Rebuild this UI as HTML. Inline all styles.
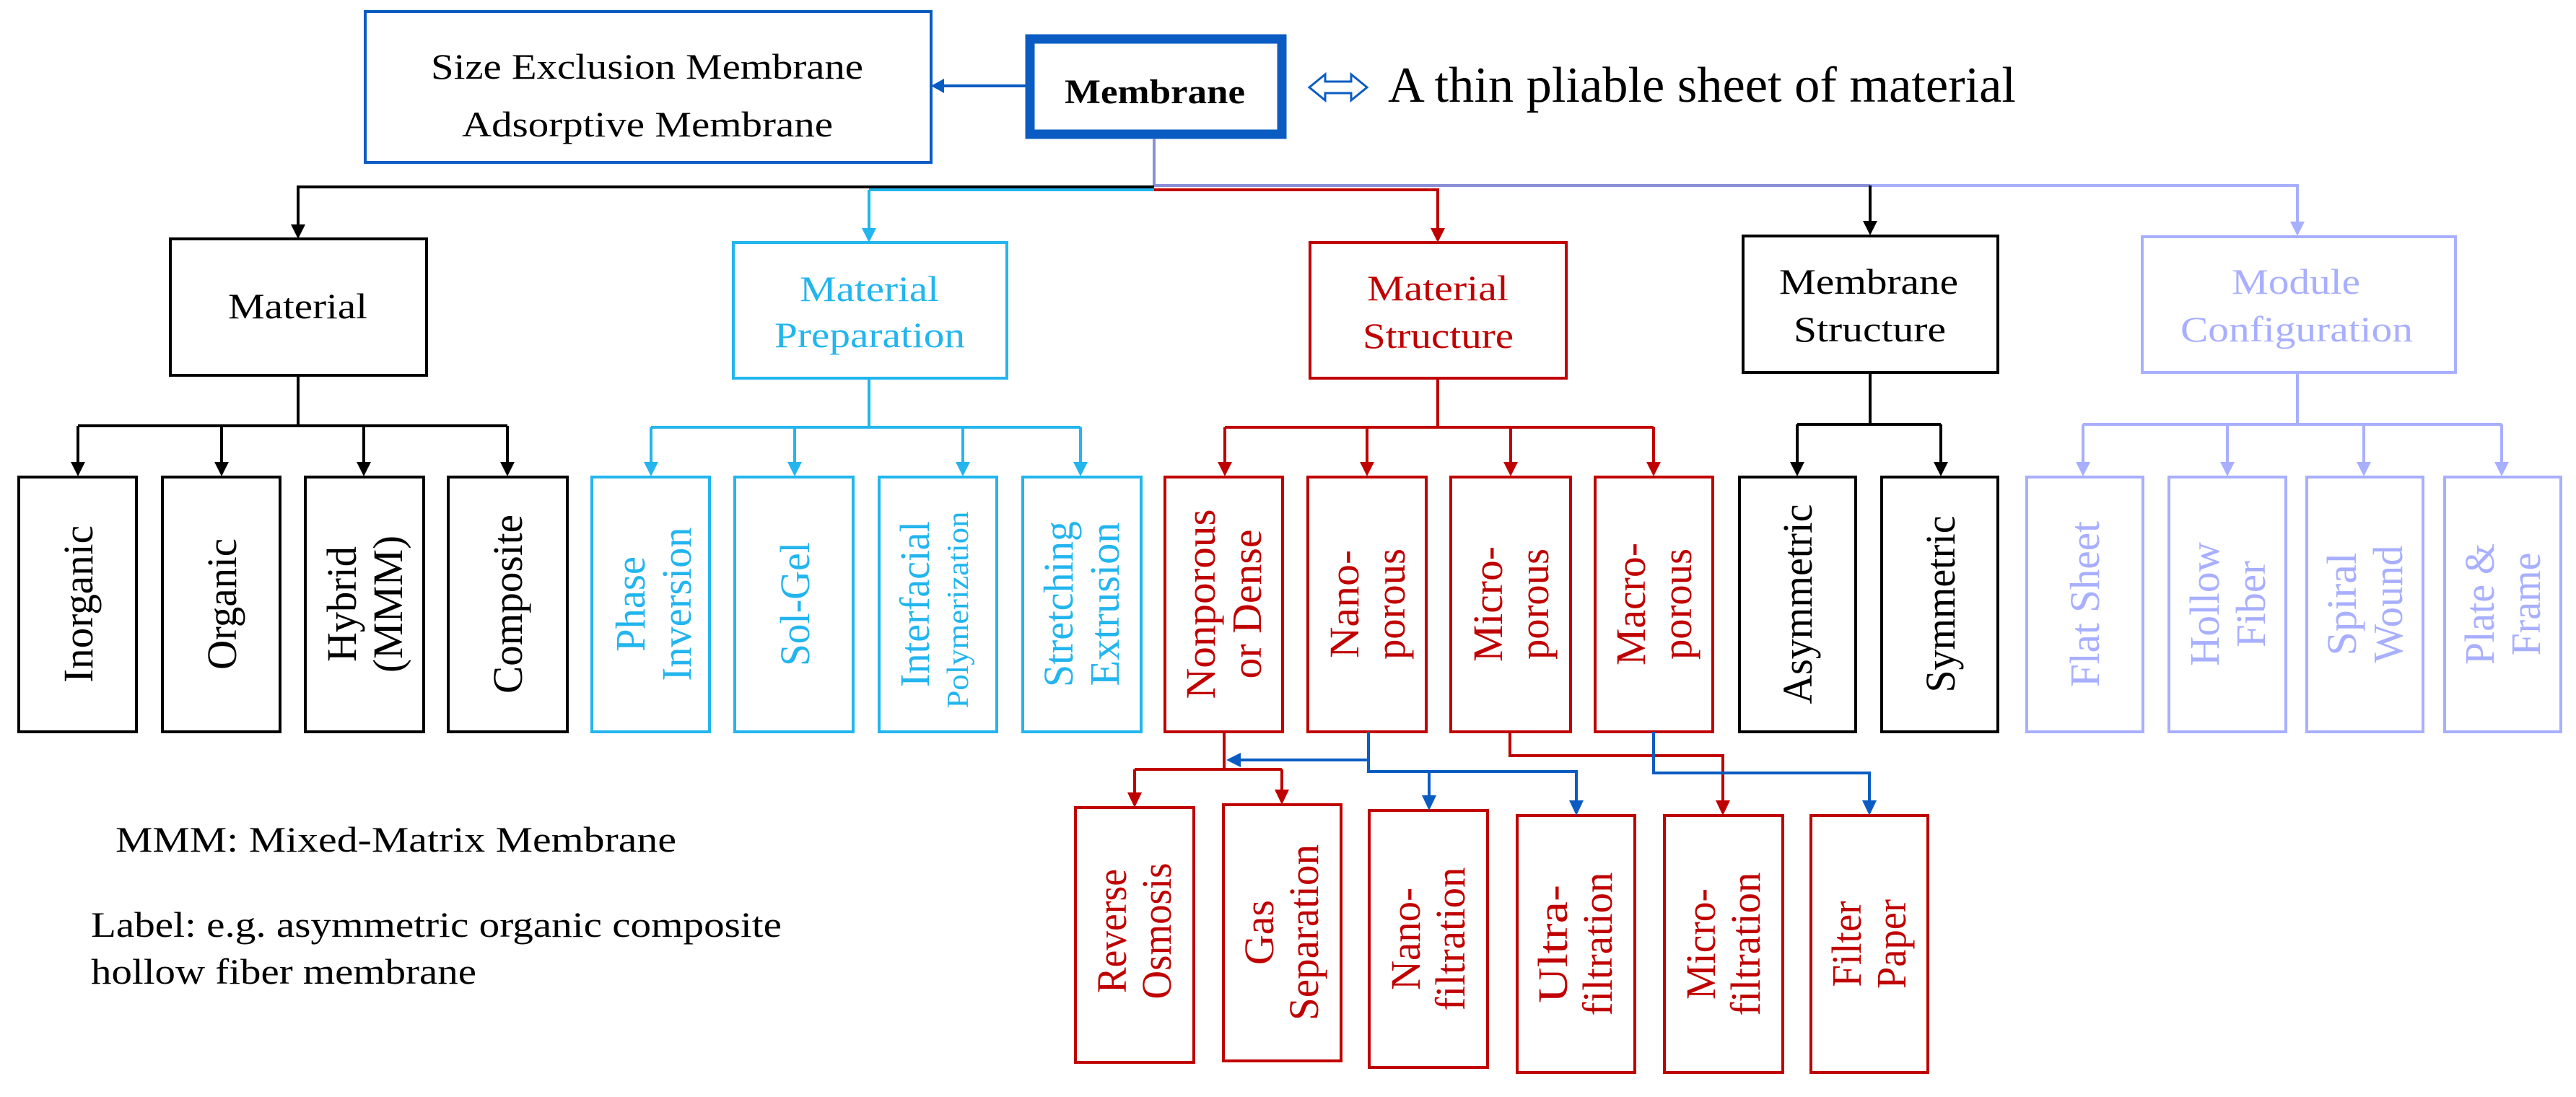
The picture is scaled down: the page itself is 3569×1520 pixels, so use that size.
<!DOCTYPE html>
<html><head><meta charset="utf-8"><style>html,body{margin:0;padding:0;background:#fff}svg{display:block}</style></head>
<body>
<svg width="3569" height="1520" viewBox="0 0 3569 1520" xmlns="http://www.w3.org/2000/svg" font-family="'Liberation Serif', serif">
<g fill="none" stroke-width="4">
<rect x="506" y="16" width="784" height="209" stroke="#0b5cc2" stroke-width="4"/>
<rect x="1427" y="54" width="349" height="132" stroke="#0b5cc2" stroke-width="13"/>
<line x1="1421" y1="119" x2="1300" y2="119" stroke="#0b5cc2"/>
<line x1="1599" y1="192" x2="1599" y2="259" stroke="#8a8fd8"/>
<line x1="411" y1="259" x2="1599" y2="259" stroke="#000"/>
<line x1="1204" y1="263" x2="1599" y2="263" stroke="#22b5ee"/>
<line x1="1599" y1="263" x2="1994" y2="263" stroke="#c00000"/>
<line x1="1599" y1="257" x2="2591" y2="257" stroke="#8a8fd8"/>
<line x1="2591" y1="257" x2="3185" y2="257" stroke="#a8afff"/>
<line x1="413" y1="259" x2="413" y2="315" stroke="#000"/>
<line x1="1204" y1="263" x2="1204" y2="320" stroke="#22b5ee"/>
<line x1="1992" y1="263" x2="1992" y2="320" stroke="#c00000"/>
<line x1="2591" y1="257" x2="2591" y2="310" stroke="#000"/>
<line x1="3183" y1="257" x2="3183" y2="311" stroke="#a8afff"/>
<!-- double arrow -->
<path d="M1814,121 L1836,103 V113 H1872 V103 L1894,121 L1872,139 V129 H1836 V139 Z" stroke="#0b5cc2" stroke-width="3"/>
</g>
<g stroke="none">
<path d="M1290,119 L1308,109 L1308,129 z" fill="#0b5cc2"/>
<path d="M403,311 L423,311 L413,331 z" fill="#000"/>
<path d="M1194,316 L1214,316 L1204,336 z" fill="#22b5ee"/>
<path d="M1982,316 L2002,316 L1992,336 z" fill="#c00000"/>
<path d="M2581,306 L2601,306 L2591,326 z" fill="#000"/>
<path d="M3173,307 L3193,307 L3183,327 z" fill="#a8afff"/>
</g>
<g stroke-width="4" fill="#fff">
<rect x="236" y="331" width="355" height="189" stroke="#000"/>
<rect x="1016" y="336" width="379" height="188" stroke="#22b5ee"/>
<rect x="1815" y="336" width="355" height="188" stroke="#c00000"/>
<rect x="2415" y="327" width="353" height="189" stroke="#000"/>
<rect x="2968" y="328" width="434" height="188" stroke="#a8afff"/>
</g>
<g fill="none" stroke-width="4">
<path d="M413,520 V590 M108,590 H703 M108,590 V645 M307,590 V645 M504,590 V645 M703,590 V645" stroke="#000"/>
<path d="M1204,524 V592 M902,592 H1497 M902,592 V645 M1101,592 V645 M1334,592 V645 M1497,592 V645" stroke="#22b5ee"/>
<path d="M1992,524 V592 M1697,592 H2291 M1697,592 V645 M1894,592 V645 M2093,592 V645 M2291,592 V645" stroke="#c00000"/>
<path d="M2591,516 V588 M2490,588 H2689 M2490,588 V645 M2689,588 V645" stroke="#000"/>
<path d="M3183,516 V588 M2886,588 H3466 M2886,588 V645 M3086,588 V645 M3275,588 V645 M3466,588 V645" stroke="#a8afff"/>
</g>
<g stroke="none">
<g fill="#000"><path d="M98,640 h20 l-10,20z"/><path d="M297,640 h20 l-10,20z"/><path d="M494,640 h20 l-10,20z"/><path d="M693,640 h20 l-10,20z"/><path d="M2480,640 h20 l-10,20z"/><path d="M2679,640 h20 l-10,20z"/></g>
<g fill="#22b5ee"><path d="M892,640 h20 l-10,20z"/><path d="M1091,640 h20 l-10,20z"/><path d="M1324,640 h20 l-10,20z"/><path d="M1487,640 h20 l-10,20z"/></g>
<g fill="#c00000"><path d="M1687,640 h20 l-10,20z"/><path d="M1884,640 h20 l-10,20z"/><path d="M2083,640 h20 l-10,20z"/><path d="M2281,640 h20 l-10,20z"/></g>
<g fill="#a8afff"><path d="M2876,640 h20 l-10,20z"/><path d="M3076,640 h20 l-10,20z"/><path d="M3265,640 h20 l-10,20z"/><path d="M3456,640 h20 l-10,20z"/></g>
</g>
<g fill="none" stroke-width="4">
<g stroke="#000"><rect x="26" y="661" width="163" height="353"/><rect x="225" y="661" width="163" height="353"/><rect x="423" y="661" width="164" height="353"/><rect x="621" y="661" width="165" height="353"/><rect x="2410" y="661" width="161" height="353"/><rect x="2607" y="661" width="161" height="353"/></g>
<g stroke="#22b5ee"><rect x="820" y="661" width="163" height="353"/><rect x="1018" y="661" width="164" height="353"/><rect x="1218" y="661" width="163" height="353"/><rect x="1417" y="661" width="164" height="353"/></g>
<g stroke="#c00000"><rect x="1614" y="661" width="163" height="353"/><rect x="1812" y="661" width="164" height="353"/><rect x="2010" y="661" width="166" height="353"/><rect x="2210" y="661" width="163" height="353"/></g>
<g stroke="#a8afff"><rect x="2808" y="661" width="161" height="353"/><rect x="3005" y="661" width="162" height="353"/><rect x="3196" y="661" width="161" height="353"/><rect x="3387" y="661" width="161" height="353"/></g>
<g stroke="#c00000"><rect x="1490" y="1119" width="164" height="353"/><rect x="1695" y="1115" width="163" height="355"/><rect x="1897" y="1123" width="164" height="356"/><rect x="2102" y="1130" width="163" height="356"/><rect x="2306" y="1130" width="164" height="356"/><rect x="2509" y="1130" width="162" height="356"/></g>
<path d="M1696,1014 V1066 M1572,1066 H1776 M1572,1066 V1100 M1776,1066 V1096 M2092,1014 V1047 H2387 V1112" stroke="#c00000"/>
<path d="M1896,1014 V1069 H2184 V1112 M1896,1053 H1715 M1980,1069 V1105 M2291,1014 V1071 H2590 V1112" stroke="#0b5cc2"/>
</g>
<g stroke="none">
<path d="M1562,1098 h20 l-10,21z M1766,1094 h20 l-10,21z M2377,1109 h20 l-10,21z" fill="#c00000"/>
<path d="M1970,1102 h20 l-10,21z M2174,1109 h20 l-10,21z M2580,1109 h20 l-10,21z M1699,1053 l20,-10 v20z" fill="#0b5cc2"/>
</g>
<g font-size="50" text-anchor="start">
<text x="597" y="109" textLength="599" lengthAdjust="spacingAndGlyphs">Size Exclusion Membrane</text>
<text x="640" y="189" textLength="514" lengthAdjust="spacingAndGlyphs">Adsorptive Membrane</text>
<text x="1475" y="143" textLength="250" lengthAdjust="spacingAndGlyphs" font-weight="bold" font-size="48">Membrane</text>
<text x="1923" y="141" font-size="70" textLength="870" lengthAdjust="spacingAndGlyphs">A thin pliable sheet of material</text>
<text x="316" y="441" textLength="193" lengthAdjust="spacingAndGlyphs">Material</text>
<g fill="#22b5ee"><text x="1108" y="417" textLength="193" lengthAdjust="spacingAndGlyphs">Material</text><text x="1073" y="481" textLength="264" lengthAdjust="spacingAndGlyphs">Preparation</text></g>
<g fill="#c00000"><text x="1894" y="416" textLength="196" lengthAdjust="spacingAndGlyphs">Material</text><text x="1888" y="482" textLength="209" lengthAdjust="spacingAndGlyphs">Structure</text></g>
<text x="2465" y="407" textLength="248" lengthAdjust="spacingAndGlyphs">Membrane</text>
<text x="2485" y="473" textLength="211" lengthAdjust="spacingAndGlyphs">Structure</text>
<g fill="#a8afff"><text x="3092" y="407" textLength="178" lengthAdjust="spacingAndGlyphs">Module</text><text x="3021" y="473" textLength="322" lengthAdjust="spacingAndGlyphs">Configuration</text></g>
<text x="160" y="1180" textLength="777" lengthAdjust="spacingAndGlyphs">MMM: Mixed-Matrix Membrane</text>
<text x="126" y="1298" textLength="957" lengthAdjust="spacingAndGlyphs">Label: e.g. asymmetric organic composite</text>
<text x="126" y="1363" textLength="534" lengthAdjust="spacingAndGlyphs">hollow fiber membrane</text>
</g>
<g font-size="58" text-anchor="middle">
<g fill="#000">
<text transform="translate(108,837) rotate(-90)" y="20" textLength="218" lengthAdjust="spacingAndGlyphs">Inorganic</text>
<text transform="translate(307,837) rotate(-90)" y="20" textLength="182" lengthAdjust="spacingAndGlyphs">Organic</text>
<text transform="translate(505,837) rotate(-90)" y="-12" textLength="160" lengthAdjust="spacingAndGlyphs">Hybrid</text>
<text transform="translate(505,837) rotate(-90)" y="52" textLength="190" lengthAdjust="spacingAndGlyphs">(MMM)</text>
<text transform="translate(703,837) rotate(-90)" y="20" textLength="248" lengthAdjust="spacingAndGlyphs">Composite</text>
<text transform="translate(2490,837) rotate(-90)" y="20" textLength="277" lengthAdjust="spacingAndGlyphs">Asymmetric</text>
<text transform="translate(2688,837) rotate(-90)" y="20" textLength="245" lengthAdjust="spacingAndGlyphs">Symmetric</text>
</g>
<g fill="#22b5ee">
<text transform="translate(905,837) rotate(-90)" y="-12" textLength="132" lengthAdjust="spacingAndGlyphs">Phase</text>
<text transform="translate(905,837) rotate(-90)" y="52" textLength="213" lengthAdjust="spacingAndGlyphs">Inversion</text>
<text transform="translate(1101,837) rotate(-90)" y="20" textLength="172" lengthAdjust="spacingAndGlyphs">Sol-Gel</text>
<text transform="translate(1299,837) rotate(-90)" y="-12" textLength="230" lengthAdjust="spacingAndGlyphs">Interfacial</text>
<text transform="translate(1299,845) rotate(-90)" y="42" font-size="42" textLength="273" lengthAdjust="spacingAndGlyphs">Polymerization</text>
<text transform="translate(1498,837) rotate(-90)" y="-12" textLength="230" lengthAdjust="spacingAndGlyphs">Stretching</text>
<text transform="translate(1498,837) rotate(-90)" y="52" textLength="227" lengthAdjust="spacingAndGlyphs">Extrusion</text>
</g>
<g fill="#c00000">
<text transform="translate(1695,837) rotate(-90)" y="-12" textLength="263" lengthAdjust="spacingAndGlyphs">Nonporous</text>
<text transform="translate(1695,837) rotate(-90)" y="52" textLength="207" lengthAdjust="spacingAndGlyphs">or Dense</text>
<text transform="translate(1894,837) rotate(-90)" y="-12" textLength="150" lengthAdjust="spacingAndGlyphs">Nano-</text>
<text transform="translate(1894,837) rotate(-90)" y="52" textLength="154" lengthAdjust="spacingAndGlyphs">porous</text>
<text transform="translate(2093,837) rotate(-90)" y="-12" textLength="160" lengthAdjust="spacingAndGlyphs">Micro-</text>
<text transform="translate(2093,837) rotate(-90)" y="52" textLength="154" lengthAdjust="spacingAndGlyphs">porous</text>
<text transform="translate(2291,837) rotate(-90)" y="-12" textLength="170" lengthAdjust="spacingAndGlyphs">Macro-</text>
<text transform="translate(2291,837) rotate(-90)" y="52" textLength="154" lengthAdjust="spacingAndGlyphs">porous</text>
<text transform="translate(1572,1290) rotate(-90)" y="-12" textLength="172" lengthAdjust="spacingAndGlyphs">Reverse</text>
<text transform="translate(1572,1290) rotate(-90)" y="50" textLength="189" lengthAdjust="spacingAndGlyphs">Osmosis</text>
<text transform="translate(1776,1292) rotate(-90)" y="-12" textLength="90" lengthAdjust="spacingAndGlyphs">Gas</text>
<text transform="translate(1776,1292) rotate(-90)" y="50" textLength="244" lengthAdjust="spacingAndGlyphs">Separation</text>
<text transform="translate(1979,1301) rotate(-90)" y="-12" textLength="142" lengthAdjust="spacingAndGlyphs">Nano-</text>
<text transform="translate(1979,1301) rotate(-90)" y="50" textLength="199" lengthAdjust="spacingAndGlyphs">filtration</text>
<text transform="translate(2183,1308) rotate(-90)" y="-12" textLength="164" lengthAdjust="spacingAndGlyphs">Ultra-</text>
<text transform="translate(2183,1308) rotate(-90)" y="50" textLength="199" lengthAdjust="spacingAndGlyphs">filtration</text>
<text transform="translate(2388,1308) rotate(-90)" y="-12" textLength="154" lengthAdjust="spacingAndGlyphs">Micro-</text>
<text transform="translate(2388,1308) rotate(-90)" y="50" textLength="199" lengthAdjust="spacingAndGlyphs">filtration</text>
<text transform="translate(2590,1308) rotate(-90)" y="-12" textLength="119" lengthAdjust="spacingAndGlyphs">Filter</text>
<text transform="translate(2590,1308) rotate(-90)" y="50" textLength="124" lengthAdjust="spacingAndGlyphs">Paper</text>
</g>
<g fill="#a8afff">
<text transform="translate(2888,837) rotate(-90)" y="20" textLength="230" lengthAdjust="spacingAndGlyphs">Flat Sheet</text>
<text transform="translate(3086,837) rotate(-90)" y="-12" textLength="172" lengthAdjust="spacingAndGlyphs">Hollow</text>
<text transform="translate(3086,837) rotate(-90)" y="52" textLength="120" lengthAdjust="spacingAndGlyphs">Fiber</text>
<text transform="translate(3276,837) rotate(-90)" y="-12" textLength="143" lengthAdjust="spacingAndGlyphs">Spiral</text>
<text transform="translate(3276,837) rotate(-90)" y="52" textLength="163" lengthAdjust="spacingAndGlyphs">Wound</text>
<text transform="translate(3467,837) rotate(-90)" y="-12" textLength="168" lengthAdjust="spacingAndGlyphs">Plate &amp;</text>
<text transform="translate(3467,837) rotate(-90)" y="52" textLength="143" lengthAdjust="spacingAndGlyphs">Frame</text>
</g>
</g>
</svg>
</body></html>
